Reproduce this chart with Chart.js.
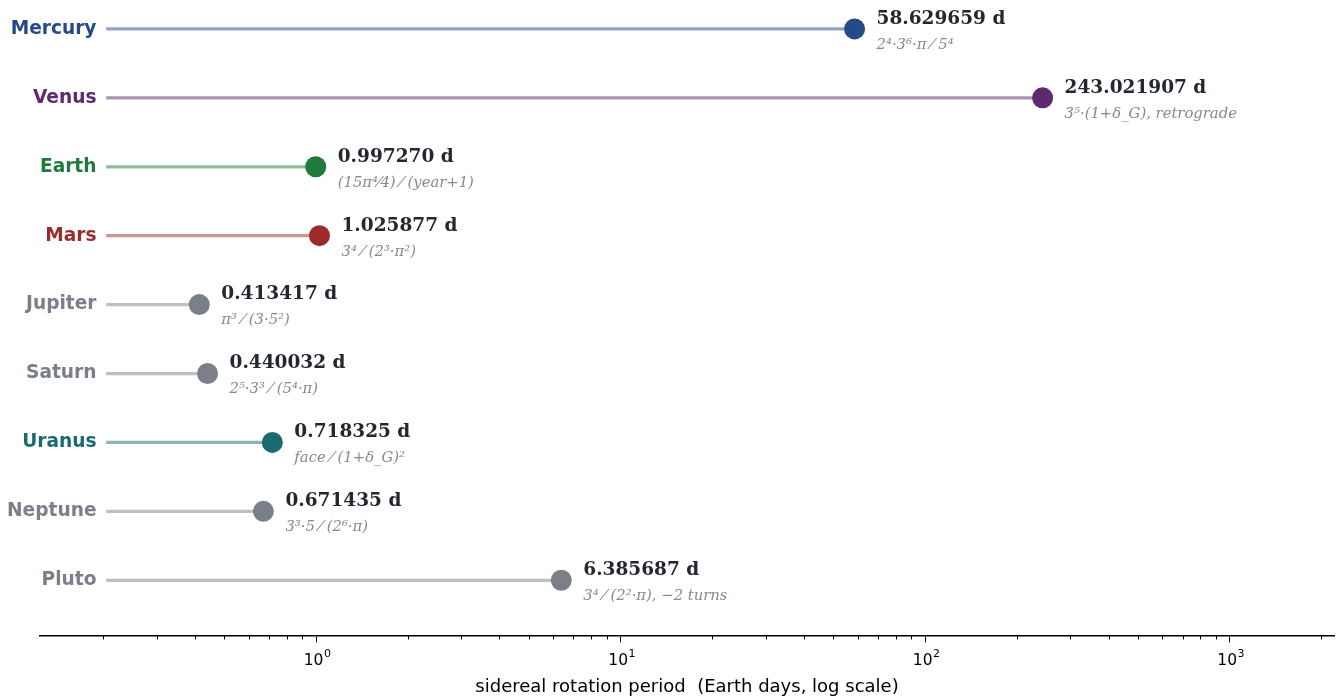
<!DOCTYPE html>
<html>
<head>
<meta charset="utf-8">
<script src="https://cdn.jsdelivr.net/npm/chart.js@4"></script>
<style>
    html, body { margin: 0; padding: 0; background: #fff; }
    #wrap { width: 1336px; height: 698px; }
</style>
</head>
<body>
<div id="wrap"><canvas id="chart"></canvas></div>
<script>
const planets = ['Mercury', 'Venus', 'Earth', 'Mars', 'Jupiter', 'Saturn', 'Uranus', 'Neptune', 'Pluto'];
const periods = [58.629659, 243.021907, 0.997270, 1.025877, 0.413417, 0.440032, 0.718325, 0.671435, 6.385687];
const formulas = [
    '2⁴·3⁶·π ⁄ 5⁴',
    '3⁵·(1+δ_G), retrograde',
    '(15π⁴⁄4) ⁄ (year+1)',
    '3⁴ ⁄ (2³·π²)',
    'π³ ⁄ (3·5²)',
    '2⁵·3³ ⁄ (5⁴·π)',
    'face ⁄ (1+δ_G)²',
    '3³·5 ⁄ (2⁶·π)',
    '3⁴ ⁄ (2²·π), −2 turns'
];
const colors = ['#254a87', '#5c2a6d', '#217a3b', '#9b2b2b', '#7b7f89', '#7b7f89', '#1a6a6f', '#7b7f89', '#7b7f89'];
const majorTicks = [1, 10, 100, 1000];
const stemStart = 0.205;

function fade(hex, a) {
    let r = parseInt(hex.slice(1, 3), 16), g = parseInt(hex.slice(3, 5), 16), b = parseInt(hex.slice(5, 7), 16);
    return `rgba(${r}, ${g}, ${b}, ${a})`;
}

// minor ticks, 10^n labels, text annotations
const extras = {
    id: 'extras',
    afterDraw(chart) {
        const ctx = chart.ctx;
        const xs = chart.scales.x, ys = chart.scales.y;
        const axisY = chart.chartArea.bottom;
        ctx.save();
        ctx.strokeStyle = '#000';
        ctx.lineWidth = 1;
        for (let d = -1; d <= 3; d++) {
            for (let m = 2; m <= 9; m++) {
                let v = m * Math.pow(10, d);
                if (v < xs.min || v > xs.max) continue;
                let px = Math.round(xs.getPixelForValue(v)) + 0.5;
                ctx.beginPath();
                ctx.moveTo(px, axisY);
                ctx.lineTo(px, axisY + 4);
                ctx.stroke();
            }
        }

        // tick labels as 10 + raised exponent
        ctx.fillStyle = '#000';
        ctx.textBaseline = 'alphabetic';
        ctx.textAlign = 'left';
        majorTicks.forEach(v => {
            let e = String(Math.round(Math.log10(v)));
            ctx.font = '15.5px "DejaVu Sans"';
            let w1 = ctx.measureText('10').width;
            ctx.font = '11px "DejaVu Sans"';
            let w2 = ctx.measureText(e).width;
            let x0 = xs.getPixelForValue(v) - (w1 + w2) / 2 + 1;
            ctx.font = '15.5px "DejaVu Sans"';
            ctx.fillText('10', x0, axisY + 30);
            ctx.font = '11px "DejaVu Sans"';
            ctx.fillText(e, x0 + w1 + 0.5, axisY + 22);
        });

        for (let i = 0; i < planets.length; i++) {
            let y = ys.getPixelForValue(i);
            ctx.textBaseline = 'middle';
            ctx.textAlign = 'right';
            ctx.fillStyle = colors[i];
            ctx.font = 'bold 18.6px "DejaVu Sans"';
            ctx.fillText(planets[i], xs.getPixelForValue(stemStart) - 10, y);

            let x = xs.getPixelForValue(periods[i]) + 22;
            ctx.textAlign = 'left';
            ctx.fillStyle = '#23272f';
            ctx.font = 'bold 18.5px "DejaVu Serif"';
            ctx.fillText(periods[i].toFixed(6) + ' d', x, y - 10);
            ctx.fillStyle = '#858994';
            ctx.font = 'italic 14.8px "DejaVu Serif"';
            ctx.fillText(formulas[i], x, y + 16);
        }
        ctx.restore();
    }
};

new Chart(document.getElementById('chart'), {
    data: {
        datasets: [{
            type: 'bar',
            indexAxis: 'y',
            data: periods.map((v, i) => ({x: [stemStart, v], y: i})),
            backgroundColor: colors.map(c => fade(c, 0.5)),
            barThickness: 2.6,
            borderWidth: 0
        }, {
            type: 'scatter',
            data: periods.map((v, i) => ({x: v, y: i})),
            pointRadius: 10.5,
            pointHoverRadius: 10.5,
            pointBackgroundColor: colors,
            pointBorderWidth: 0
        }]
    },
    options: {
        responsive: true,
        maintainAspectRatio: false,
        animation: false,
        layout: {autoPadding: false, padding: {left: 40, right: 2, top: 0, bottom: 0}},
        plugins: {legend: {display: false}, tooltip: {enabled: false}},
        scales: {
            y: {
                type: 'linear',
                min: -0.42,
                max: 8.8,
                reverse: true,
                offset: false,
                grace: 0,
                display: false
            },
            x: {
                type: 'logarithmic',
                min: 0.124,
                max: 2200,
                afterBuildTicks: scale => {
                    scale.ticks = majorTicks.map(v => ({value: v}));
                },
                ticks: {
                    autoSkip: false,
                    maxRotation: 0,
                    color: 'rgba(0,0,0,0)',
                    padding: 5,
                    font: {family: 'DejaVu Sans', size: 15},
                    callback: v => '10' + Math.round(Math.log10(v))
                },
                grid: {
                    drawOnChartArea: false,
                    tickLength: 7,
                    tickColor: '#000',
                    tickWidth: 1
                },
                border: {color: '#000', width: 1.5},
                title: {
                    display: true,
                    text: 'sidereal rotation period  (Earth days, log scale)',
                    color: '#000',
                    padding: {top: 6, bottom: 0},
                    font: {family: 'DejaVu Sans', size: 18}
                }
            }
        }
    },
    plugins: [extras]
});
</script>
</body>
</html>
